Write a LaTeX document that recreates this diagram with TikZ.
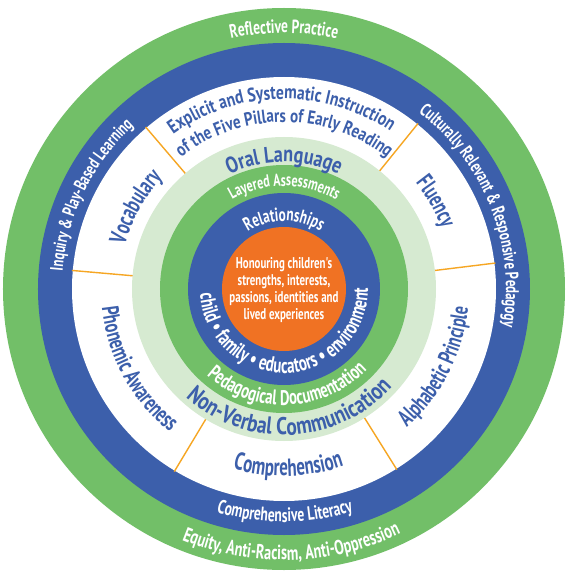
\documentclass[tikz,border=0pt]{standalone}
\usepackage{fontspec}
\usetikzlibrary{decorations.text}
\newfontfamily\condf[FakeStretch=0.7]{PT Sans}
\newfontfamily\secf[FakeStretch=0.68]{PT Sans}
\newfontfamily\boldc[FakeStretch=0.8]{PT Sans}
\definecolor{ringgreen}{HTML}{72BF68}
\definecolor{ringblue}{HTML}{3C5FAB}
\definecolor{palegreen}{HTML}{D6EAD1}
\definecolor{coreorange}{HTML}{F07223}
\definecolor{divider}{HTML}{F6A623}
\newlength\arcw
% size macro, font, target width, text
\newcommand\mksize[4]{%
  \settowidth\arcw{#2\fontsize{10}{10}\selectfont #4}%
  \pgfmathsetmacro#1{10*#3/\arcw}}
% #1 font, #2 colour, #3 baseline radius, #4 centre angle, #5 size, #6 +1 top / -1 bottom, #7 text
\newcommand\curvetext[7]{%
  \pgfmathsetmacro\arcsa{#4+#6*100}%
  \pgfmathsetmacro\arcea{#4-#6*100}%
  \path[decorate,decoration={text along path,text align=center,text color=#2,
    text={|#1\fontsize{#5}{#5}\selectfont|#7}}]
    (\arcsa:#3pt) arc[start angle=\arcsa,end angle=\arcea,radius=#3pt];%
}
\tikzset{divline/.style={draw=divider,line width=1.4pt}}
\begin{document}
\mksize\fsA{\condf\bfseries}{105}{Reflective Practice}
\mksize\fsB{\condf\bfseries}{224}{Equity, Anti-Racism, Anti-Oppression}
\mksize\fsC{\condf\bfseries}{240}{Culturally Relevant {\&} Responsive Pedagogy}
\mksize\fsD{\condf\bfseries}{165}{Inquiry {\&} Play-Based Learning}
\mksize\fsE{\condf\bfseries}{138}{Comprehensive Literacy}
\mksize\fsF{\boldc\bfseries}{231}{Explicit and Systematic Instruction}
\mksize\fsG{\boldc\bfseries}{221}{of the Five Pillars of Early Reading}
\mksize\fsH{\secf\bfseries}{77}{Vocabulary}
\mksize\fsI{\secf\bfseries}{53}{Fluency}
\mksize\fsJ{\secf\bfseries}{137}{Alphabetic Principle}
\mksize\fsK{\secf\bfseries}{145}{Phonemic Awareness}
\mksize\fsL{\secf\bfseries}{112}{Comprehension}
\mksize\fsM{\boldc\bfseries}{113}{Oral Language}
\mksize\fsN{\boldc\bfseries}{227}{Non-Verbal Communication}
\mksize\fsO{\condf\bfseries}{109}{Layered Assessments}
\mksize\fsP{\condf\bfseries}{177}{Pedagogical Documentation}
\mksize\fsQ{\condf\bfseries}{76}{Relationships}
\mksize\fsR{\condf\bfseries}{260}{child • family • educators • environment}
\mksize\fsS{\condf\bfseries}{109}{passions, identities and}
\begin{tikzpicture}
\useasboundingbox (-284pt,-287pt) rectangle (286pt,289pt);
\fill[white] (-284pt,-287pt) rectangle (286pt,289pt);
\fill[ringgreen] (0,0) circle[radius=281pt];
\fill[ringblue] (0,0) circle[radius=246pt];
\fill[white] (0,0) circle[radius=212pt];
\foreach \a in {51,130.5,175,7,239,302}{\path[divline] (\a:150pt) -- (\a:213pt);}
\fill[palegreen] (0,0) circle[radius=152pt];
\fill[ringgreen] (0,0) circle[radius=124pt];
\fill[ringblue] (0,0) circle[radius=96pt];
\fill[coreorange] (0,0) circle[radius=62pt];

\curvetext{\condf\bfseries}{white}{256}{90}{\fsA}{1}{Reflective Practice}
\curvetext{\condf\bfseries}{white}{271}{271.7}{\fsB}{-1}{Equity, Anti-Racism, Anti-Oppression}
\curvetext{\condf\bfseries}{white}{222}{21.5}{\fsC}{1}{Culturally Relevant {\&} Responsive Pedagogy}
\curvetext{\condf\bfseries}{white}{222}{154}{\fsD}{1}{Inquiry {\&} Play-Based Learning}
\curvetext{\condf\bfseries}{white}{233}{270.2}{\fsE}{-1}{Comprehensive Literacy}
\curvetext{\boldc\bfseries}{ringblue}{190}{90.8}{\fsF}{1}{Explicit and Systematic Instruction}
\curvetext{\boldc\bfseries}{ringblue}{167}{89.9}{\fsG}{1}{of the Five Pillars of Early Reading}
\curvetext{\secf\bfseries}{ringblue}{165}{151}{\fsH}{1}{Vocabulary}
\curvetext{\secf\bfseries}{ringblue}{169}{29.8}{\fsI}{1}{Fluency}
\curvetext{\secf\bfseries}{ringblue}{185}{332.9}{\fsJ}{-1}{Alphabetic Principle}
\curvetext{\secf\bfseries}{ringblue}{183}{208.7}{\fsK}{-1}{Phonemic Awareness}
\curvetext{\secf\bfseries}{ringblue}{187}{271.4}{\fsL}{-1}{Comprehension}
\curvetext{\boldc\bfseries}{ringblue}{127}{90}{\fsM}{1}{Oral Language}
\curvetext{\boldc\bfseries}{ringblue}{146}{272.8}{\fsN}{-1}{Non-Verbal Communication}
\curvetext{\condf\bfseries}{white}{103}{89.8}{\fsO}{1}{Layered Assessments}
\curvetext{\condf\bfseries}{white}{116}{272}{\fsP}{-1}{Pedagogical Documentation}
\curvetext{\condf\bfseries}{white}{68}{90}{\fsQ}{1}{Relationships}
\curvetext{\condf\bfseries}{white}{84}{271.8}{\fsR}{-1}{child • family • educators • environment}

\node[text=white,align=center,inner sep=0pt,font=\condf\bfseries\fontsize{\fsS}{16.7}\selectfont] (core) at (0,-1pt)
  {Honouring children's\\strengths, interests,\\passions, identities and\\lived experiences};
\end{tikzpicture}
\end{document}
